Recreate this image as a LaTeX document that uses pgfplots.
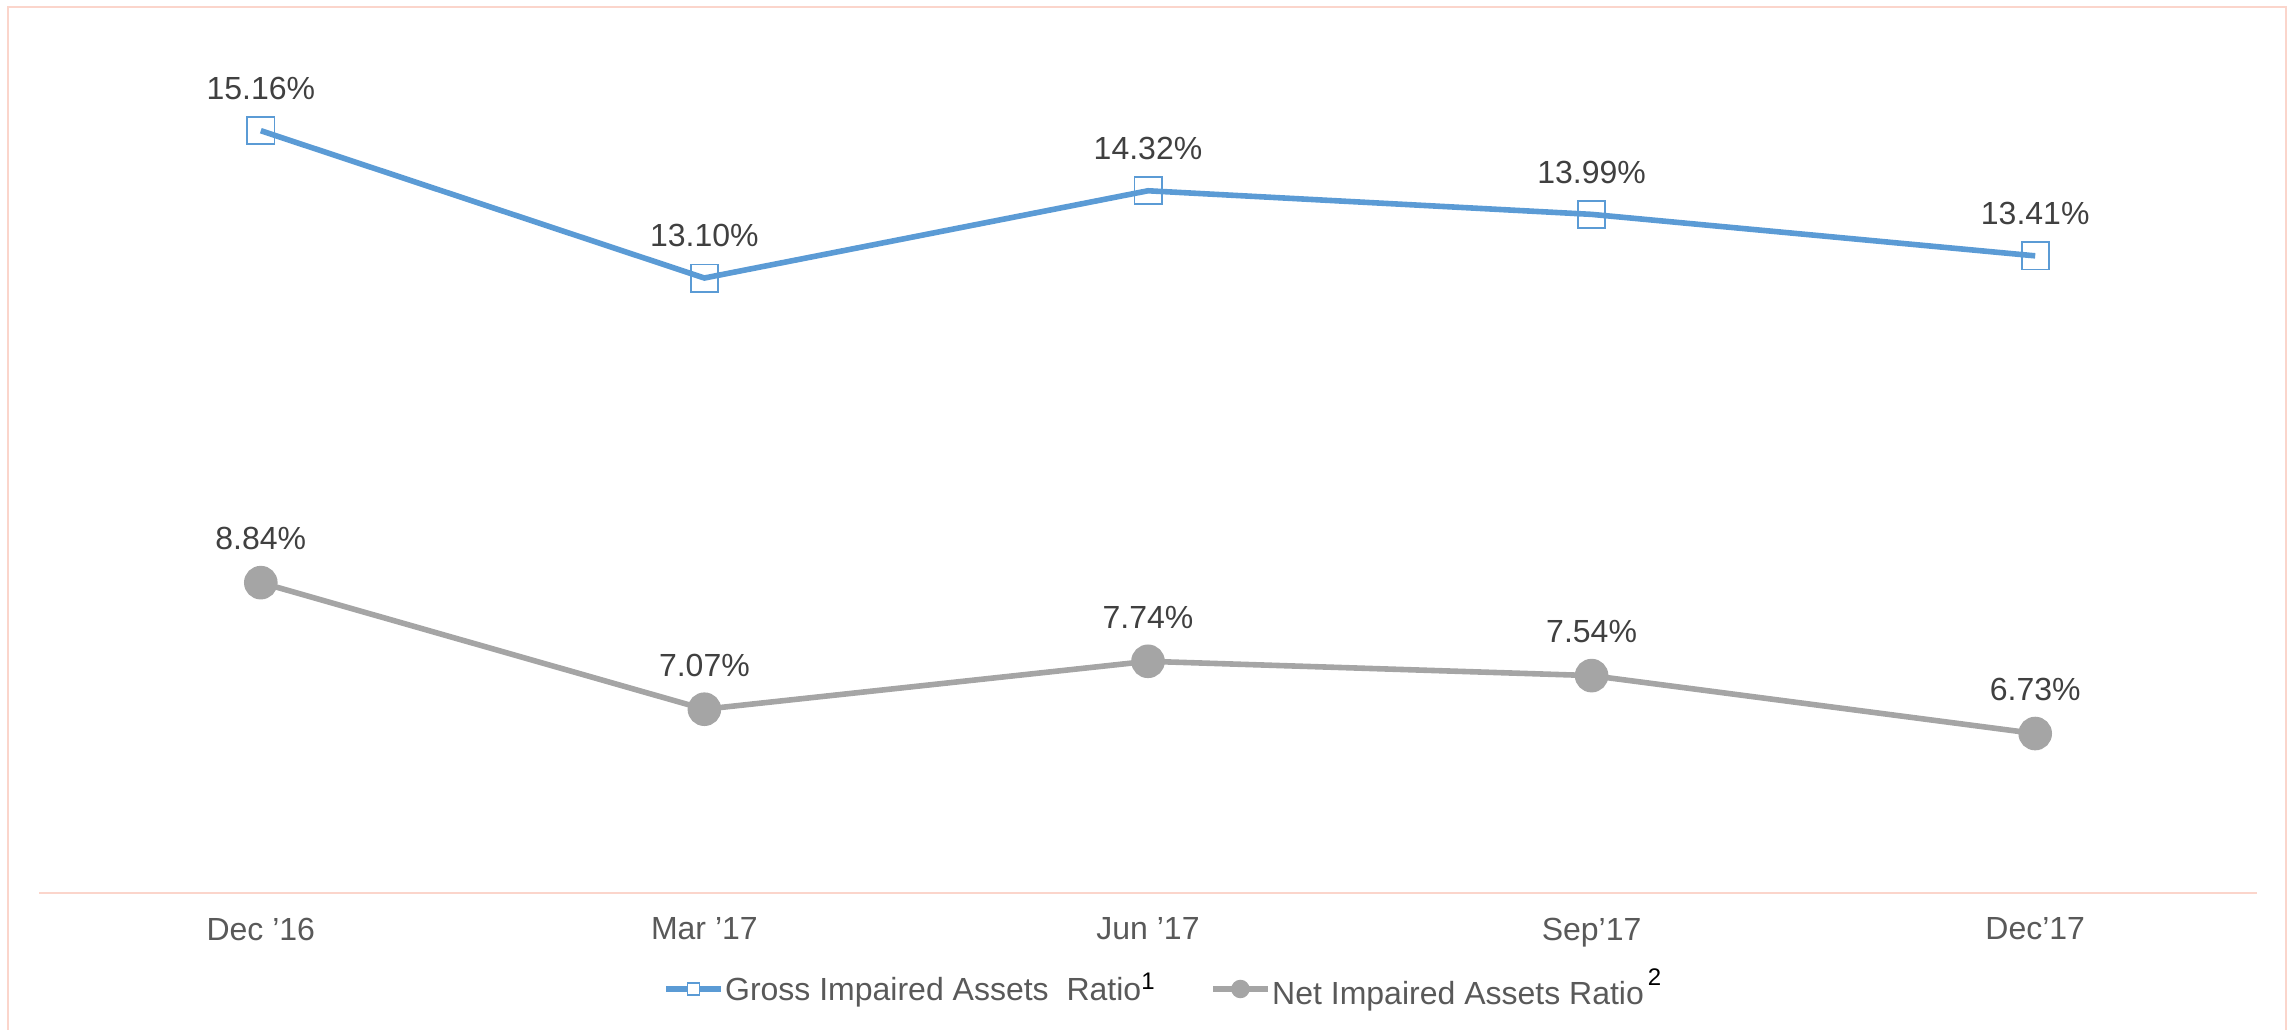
\documentclass[border=0pt]{standalone}
\usepackage{pgfplots}
\pgfplotsset{compat=1.18}
\usepackage{fontspec}
\setmainfont{Liberation Sans}
\definecolor{cblue}{HTML}{5B9BD5}
\definecolor{cgray}{HTML}{A5A5A5}
\definecolor{frame}{HTML}{FBD5CB}
\definecolor{txtdark}{HTML}{404040}
\definecolor{txtmid}{HTML}{595959}
\begin{document}
\fontsize{8}{9.6}\selectfont
\begin{tikzpicture}
\path[use as bounding box] (-9.75pt,-34pt) rectangle (563.25pt,223.25pt);
\draw[frame, line width=0.5pt] (-7.75pt,-40pt) -- (-7.75pt,221.5pt) -- (561.75pt,221.5pt) -- (561.75pt,-40pt);
\begin{axis}[
  scale only axis,
  width=554.5pt, height=221.5pt,
  at={(0,0)}, anchor=south west,
  xmin=-0.5, xmax=4.5, ymin=4.5, ymax=16.89,
  axis y line=none,
  axis x line*=bottom,
  x axis line style={frame, line width=0.5pt, -},
  xtick={0,1,2,3,4},
  xticklabels={Dec ’16, Mar ’17, Jun ’17, Sep’17, Dec’17},
  major tick length=0pt,
  xticklabel style={font=\fontsize{8}{9.6}\selectfont, text=txtmid, inner sep=0pt, yshift=-6pt},
  clip=false,
  /pgf/number format/assume math mode=true,
  nodes near coords={\pgfmathprintnumber[fixed,fixed zerofill,precision=2]{\pgfplotspointmeta}\%},
  point meta=y,
  every node near coord/.style={font=\fontsize{8}{9.6}\selectfont, text=txtdark, anchor=south, inner sep=0pt, yshift=7.5pt},
  legend columns=2,
  legend style={draw=none, fill=none, at={(0.5,0)}, anchor=center, yshift=-24pt, xshift=4pt,
    font=\fontsize{8}{9.6}\selectfont, text=txtmid, inner sep=0pt,
    nodes={inner sep=0.4pt},
    /tikz/every even column/.append style={column sep=13pt}},
  legend cell align=left,
]
\addplot[cblue, line width=1.4pt, mark=square, mark size=3.4pt, mark options={line width=0.45pt, fill=white, draw=cblue},
  legend image code/.code={\draw[cblue, line width=1.5pt] (-4pt,0pt) -- (9.6pt,0pt);
    \draw[cblue, line width=0.4pt, fill=white] (1.3pt,-1.45pt) rectangle (4.3pt,1.45pt);}]
  coordinates {(0,15.16) (1,13.10) (2,14.32) (3,13.99) (4,13.41)};
\addlegendentry{Gross Impaired Assets\ \ Ratio\textsuperscript{\color{black}1}}
\addplot[cgray, line width=1.4pt, mark=*, mark size=3.5pt, mark options={fill=cgray, draw=cgray},
  legend image code/.code={\draw[cgray, line width=1.5pt] (-4pt,0pt) -- (9.6pt,0pt);
    \fill[cgray] (2.8pt,0pt) circle (1.6pt);}]
  coordinates {(0,8.84) (1,7.07) (2,7.74) (3,7.54) (4,6.73)};
\addlegendentry{Net Impaired Assets Ratio\raisebox{2pt}{\textsuperscript{\color{black}\,2}}}
\end{axis}
\end{tikzpicture}
\end{document}
